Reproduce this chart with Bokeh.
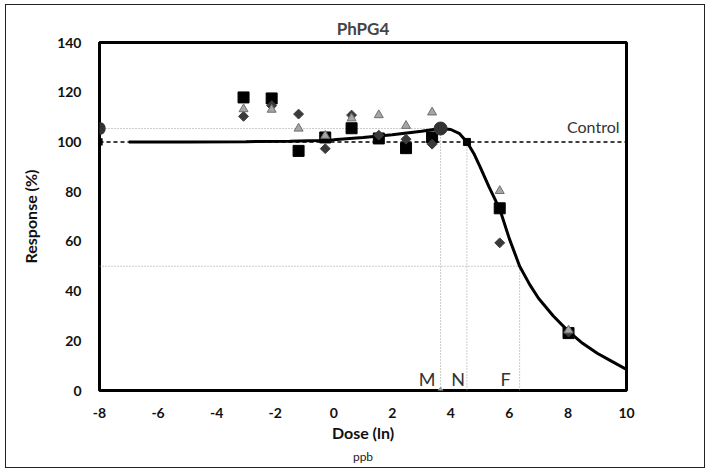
import math
from bokeh.plotting import figure
from bokeh.models import Range1d, FixedTicker, Title, Label
from bokeh.core.properties import value
from bokeh.embed import file_html
from bokeh.resources import INLINE

# ---- data ----
dose = [-3.08, -2.12, -1.20, -0.29, 0.61, 1.54, 2.47, 3.36, 5.67, 8.02]
rep_square = [117.9, 117.5, 96.4, 101.8, 105.5, 101.4, 97.5, 101.8, 73.3, 23.1]
rep_diamond = [110.3, 114.6, 111.2, 97.3, 110.8, 102.7, 101.1, 99.1, 59.4, 23.5]
rep_triangle = [113.2, 113.0, 105.4, 102.5, 109.5, 110.8, 106.5, 111.9, 80.3, 24.2]

curve_x = [-7.0, -5.0, -3.0, -1.5, -0.5, 0.0, 1.0, 2.0, 3.0, 3.65, 4.0, 4.3,
           4.55, 4.8, 5.0, 5.3, 5.67, 6.0, 6.35, 6.7, 7.0, 7.5, 8.0, 8.5,
           9.0, 9.5, 10.0]
curve_y = [100.0, 100.0, 100.1, 100.3, 100.6, 100.9, 101.8, 102.9, 104.3, 105.4,
           105.0, 103.3, 100.0, 95.0, 90.0, 82.0, 73.0, 61.0, 50.0, 42.5,
           37.0, 30.0, 24.0, 19.0, 15.0, 11.7, 8.5]

x_ticks = [-8, -6, -4, -2, 0, 2, 4, 6, 8, 10]
x_tick_labels = ["-8", "-6", "-4", "-2", "0", "2", "4", "6", "8", "10"]
y_ticks = [0, 20, 40, 60, 80, 100, 120, 140]

control_level = 100
x_min, x_max = -8, 10
y_min, y_max = 0, 140
m_x, m_y = 3.65, 105.4      # maximum stimulation
n_x, n_y = 4.55, 100.0      # no-effect level
f_x, f_y = 6.35, 50.0       # 50 % effect
point_labels = ["M", "N", "F"]

FONT = "Lato"

p = figure(width=700, height=464, output_backend="svg", toolbar_location=None,
           x_range=Range1d(x_min, x_max), y_range=Range1d(y_min, y_max),
           min_border_left=93, min_border_right=80, min_border_top=37,
           min_border_bottom=79)
p.styles = {"margin-left": "5px", "margin-top": "4px",
            "border": "1.5px solid #222"}

p.title.text = "PhPG4"
p.title.align = "center"
p.title.text_font = FONT
p.title.text_font_size = "17px"
p.title.text_font_style = "bold"
p.title.standoff = 7

p.outline_line_color = "black"
p.outline_line_width = 3
p.xgrid.visible = False
p.ygrid.visible = False

for ax in (p.xaxis, p.yaxis):
    ax.axis_line_color = None
    ax.major_tick_line_color = None
    ax.minor_tick_line_color = None
    ax.major_label_text_font = FONT
    ax.major_label_text_font_style = "bold"
    ax.major_label_text_font_size = "14px"
    ax.major_label_text_color = "#111"
    ax.axis_label_text_font = FONT
    ax.axis_label_text_font_style = "bold"
    ax.axis_label_text_font_size = "16px"
    ax.axis_label_text_color = "#111"

p.xaxis.ticker = FixedTicker(ticks=x_ticks)
p.xaxis.major_label_overrides = dict(zip(x_ticks, x_tick_labels))
p.yaxis.ticker = FixedTicker(ticks=y_ticks)
p.xaxis.major_label_standoff = 11
p.yaxis.major_label_standoff = 12
p.xaxis.axis_label = "Dose (ln)"
p.yaxis.axis_label = "Response (%)"
p.xaxis.axis_label_standoff = 2
p.yaxis.axis_label_standoff = 14

p.add_layout(Title(text="ppb", align="center", text_font=FONT,
                   text_font_size="12px", text_font_style="normal",
                   text_color="#222", standoff=4), "below")

# reference guide lines
dot = dict(line_color="#9a9a9a", line_width=1, line_dash="1 2")
p.line([x_min, m_x], [m_y, m_y], **dot)
p.line([x_min, f_x], [f_y, f_y], **dot)
p.line([m_x, m_x], [y_min, m_y], **dot)
p.line([n_x, n_x], [y_min, n_y], **dot)
p.line([f_x, f_x], [y_min, f_y], **dot)

p.line([x_min, x_max], [control_level, control_level], line_color="black",
       line_width=1.5, line_dash="4 3")

# fitted curve
p.line(curve_x, curve_y, line_color="black", line_width=3)

# replicates
p.scatter(dose, rep_square, marker="square", size=11, fill_color="black",
          line_color="black")
p.scatter(dose, rep_diamond, marker="square", angle=math.pi / 4, size=7,
          fill_color="#3a3a3a", line_color="#3a3a3a")
p.scatter(dose, rep_triangle, marker="triangle", size=9, fill_color="#a6a6a6",
          line_color="#6e6e6e")

# key points
p.scatter([m_x], [m_y], marker="circle", size=13,
          fill_color="#333333", line_color="#333333")
# points on the frame edge, drawn as unclipped annotations
p.add_layout(Label(x=x_min, y=m_y, text=" ", text_font_size="1px",
                   anchor="center", padding=6,
                   background_fill_color="#333333", border_radius=6))
p.add_layout(Label(x=x_min, y=control_level, text=" ", text_font_size="1px",
                   anchor="center", padding=3, background_fill_color="black"))
p.scatter([n_x], [n_y], marker="square", size=7,
          fill_color="black", line_color="black")
p.scatter([m_x], [y_min], marker="diamond", size=7, fill_color="#9a9a9a",
          line_color="#9a9a9a")

p.text([m_x, n_x, f_x], [y_min] * 3, text=point_labels,
       text_font=value(FONT), text_font_size="18px", text_color="#333",
       text_align="right", text_baseline="bottom",
       x_offset=[-5, -2, -9], y_offset=-1)

p.add_layout(Label(x=x_max, y=control_level, text="Control", text_font=FONT,
                   text_font_size="16px", text_color="#333",
                   text_align="right", text_baseline="bottom",
                   x_offset=-7, y_offset=6))

open("out.html", "w").write(file_html(p, INLINE))
